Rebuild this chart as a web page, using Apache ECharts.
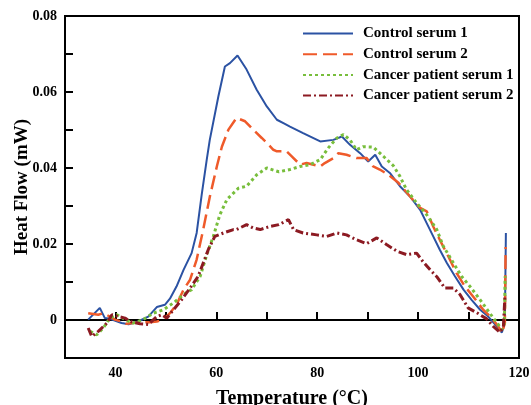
<!DOCTYPE html>
<html>
<head>
<meta charset="utf-8">
<script src="https://cdn.jsdelivr.net/npm/echarts@6/dist/echarts.min.js"></script>
<style>html,body{margin:0;padding:0;background:#fff;}#c{width:531px;height:405px;}</style>
</head>
<body>
<div id="c"></div>
<script>
var seriesNames = ['Control serum 1', 'Control serum 2', 'Cancer patient serum 1', 'Cancer patient serum 2'];
var xTickLabels = [40, 60, 80, 100, 120];
var yTickLabels = ['0', '0.02', '0.04', '0.06', '0.08'];

var control1 = [[34.6,0.0001],[36.9,0.0032],[37.9,0.0005],[38.9,0.0003],[41.2,-0.0008],[42.6,-0.0011],[44.5,-0.0004],[46.5,0.0009],[48.2,0.0034],[49.8,0.0040],[50.8,0.0056],[52.1,0.0088],[53.5,0.0132],[55.1,0.0176],[56.1,0.0229],[57.1,0.0330],[58.1,0.0422],[58.7,0.0474],[60.4,0.0588],[61.7,0.0667],[62.7,0.0676],[64.2,0.0696],[66.0,0.0659],[68.0,0.0606],[70.0,0.0562],[72.0,0.0527],[73.3,0.0518],[74.6,0.0509],[77.2,0.0492],[80.6,0.0470],[83.2,0.0474],[84.9,0.0483],[86.5,0.0461],[88.5,0.0439],[90.1,0.0417],[91.5,0.0435],[92.8,0.0404],[94.4,0.0387],[96.4,0.0352],[98.4,0.0325],[100.4,0.0290],[101.7,0.0255],[103.0,0.0220],[104.3,0.0185],[105.7,0.0150],[107.3,0.0115],[109.0,0.0080],[110.6,0.0053],[112.3,0.0027],[113.9,0.0009],[115.6,-0.0017],[116.6,-0.0033],[117.2,-0.0008],[117.4,0.0229]];

var control2 = [[34.6,0.0018],[36.6,0.0014],[37.6,0.0018],[38.9,0.0009],[39.9,0.0001],[41.2,-0.0004],[42.2,-0.0010],[44.9,-0.0006],[46.9,-0.0006],[48.2,-0.0004],[49.5,0.0001],[50.8,0.0018],[52.1,0.0040],[53.5,0.0080],[54.8,0.0106],[56.1,0.0159],[57.4,0.0238],[58.7,0.0324],[60.1,0.0404],[61.1,0.0456],[62.4,0.0501],[64.0,0.0532],[65.7,0.0523],[67.3,0.0501],[69.0,0.0479],[70.0,0.0466],[71.3,0.0448],[72.0,0.0444],[73.9,0.0444],[74.9,0.0431],[76.6,0.0409],[77.9,0.0413],[80.6,0.0404],[81.5,0.0413],[83.2,0.0426],[84.2,0.0439],[85.8,0.0435],[87.8,0.0426],[89.8,0.0426],[91.1,0.0404],[92.4,0.0396],[94.1,0.0382],[96.1,0.0361],[98.4,0.0325],[100.4,0.0295],[101.7,0.0286],[103.0,0.0246],[104.3,0.0211],[106.0,0.0167],[107.6,0.0124],[109.3,0.0088],[110.9,0.0062],[112.9,0.0027],[114.6,0.0005],[115.9,-0.0017],[116.6,-0.0034],[117.2,-0.0008],[117.35,0.0192]];

var cancer1 = [[35.0,-0.0030],[36.3,-0.0039],[37.6,-0.0021],[38.9,0.0005],[40.3,0.0014],[41.9,0.0001],[43.5,-0.0008],[45.5,0.0001],[47.5,0.0018],[49.5,0.0027],[51.5,0.0045],[53.5,0.0067],[55.1,0.0080],[56.8,0.0115],[58.1,0.0172],[59.4,0.0220],[60.7,0.0277],[62.1,0.0317],[62.7,0.0325],[64.4,0.0347],[66.0,0.0352],[68.0,0.0382],[70.0,0.0400],[72.4,0.0390],[74.6,0.0396],[76.6,0.0404],[78.6,0.0409],[80.6,0.0422],[82.2,0.0453],[83.9,0.0479],[85.2,0.0488],[86.5,0.0474],[87.8,0.0448],[89.1,0.0456],[91.1,0.0455],[93.1,0.0431],[95.1,0.0406],[96.4,0.0378],[97.7,0.0343],[99.7,0.0308],[101.7,0.0277],[103.7,0.0238],[105.0,0.0194],[107.0,0.0150],[108.6,0.0115],[110.3,0.0088],[112.3,0.0053],[114.2,0.0018],[115.9,-0.0012],[116.6,-0.0026],[117.1,-0.0008],[117.25,0.0115]];

var cancer2 = [[34.6,-0.0021],[35.3,-0.0043],[36.6,-0.0030],[38.3,-0.0008],[39.3,0.0014],[40.6,0.0009],[41.9,0.0005],[42.9,-0.0004],[44.9,-0.0010],[46.5,-0.0012],[48.2,0.0009],[49.2,0.0014],[50.2,0.0005],[51.5,0.0027],[53.1,0.0053],[54.8,0.0084],[56.4,0.0115],[57.4,0.0150],[58.4,0.0185],[59.7,0.0220],[61.4,0.0229],[63.4,0.0238],[64.0,0.0238],[66.0,0.0251],[67.3,0.0242],[68.7,0.0238],[70.6,0.0246],[72.4,0.0251],[74.3,0.0264],[75.3,0.0238],[77.2,0.0229],[79.9,0.0224],[81.9,0.0220],[83.9,0.0229],[85.8,0.0224],[87.8,0.0211],[89.8,0.0201],[91.8,0.0216],[93.8,0.0198],[95.8,0.0181],[97.7,0.0172],[99.7,0.0176],[101.0,0.0153],[102.4,0.0132],[103.7,0.0114],[105.3,0.0084],[107.0,0.0084],[108.3,0.0067],[109.9,0.0032],[111.9,0.0017],[113.6,0.0003],[114.9,-0.0017],[116.2,-0.0032],[116.9,-0.0019],[117.2,0.0060]];

var FONT = '"Liberation Serif", "Times New Roman", serif';
var chart = echarts.init(document.getElementById('c'), null, {renderer: 'canvas'});
function mk(name, data, color, width, type) {
  return {
    name: name, type: 'line', data: data, showSymbol: false, symbol: 'none', symbolSize: 0,
    lineStyle: {color: color, width: width, type: type}, itemStyle: {color: color},
    animation: false
  };
}
chart.setOption({
  animation: false,
  grid: {left: 65, right: 12, top: 16, bottom: 47, outerBoundsMode: 'none', containLabel: false,
    show: true, borderColor: '#000', borderWidth: 2, backgroundColor: 'transparent'},
  legend: {
    orient: 'vertical', left: 297, top: 21, itemWidth: 50, itemHeight: 14, itemGap: 5.7,
    itemStyle: {opacity: 0},
    textStyle: {fontFamily: FONT, fontWeight: 'bold', fontSize: 15, color: '#000', padding: [0,0,0,5]},
    data: seriesNames
  },
  xAxis: {
    type: 'value', min: 30, max: 120, interval: 10,
    name: 'Temperature (°C)', nameLocation: 'middle', nameGap: 31, nameMoveOverlap: false,
    nameTextStyle: {fontFamily: FONT, fontWeight: 'bold', fontSize: 20, color: '#000'},
    axisLine: {lineStyle: {color: '#000', width: 2}},
    axisTick: {inside: true, length: 8, lineStyle: {color: '#000', width: 2}},
    axisLabel: {
      margin: 8, fontFamily: FONT, fontWeight: 'bold', fontSize: 14, color: '#000',
      formatter: function (v) { return xTickLabels.indexOf(Math.round(v)) >= 0 ? String(Math.round(v)) : ''; }
    },
    splitLine: {show: false}
  },
  yAxis: {
    type: 'value', min: -0.01, max: 0.08, interval: 0.01,
    name: 'Heat Flow (mW)', nameLocation: 'middle', nameGap: 33, nameMoveOverlap: false,
    nameTextStyle: {fontFamily: FONT, fontWeight: 'bold', fontSize: 19, color: '#000'},
    axisLine: {lineStyle: {color: '#000', width: 2}},
    axisTick: {inside: true, length: 8, lineStyle: {color: '#000', width: 2}},
    axisLabel: {
      margin: 8, fontFamily: FONT, fontWeight: 'bold', fontSize: 14, color: '#000',
      formatter: function (v) {
        var k = Math.round(v * 100);
        if (k < 0 || k % 2 !== 0) return '';
        return yTickLabels[k / 2];
      }
    },
    splitLine: {show: false}
  },
  series: [
    mk(seriesNames[0], control1, '#2B52A3', 2, 'solid'),
    mk(seriesNames[1], control2, '#EF5A2A', 2.5, [14, 6]),
    mk(seriesNames[2], cancer1, '#78BE3C', 3, [3, 3]),
    mk(seriesNames[3], cancer2, '#8C1A22', 3, [8, 3, 2, 3])
  ]
});
</script>
</body>
</html>
